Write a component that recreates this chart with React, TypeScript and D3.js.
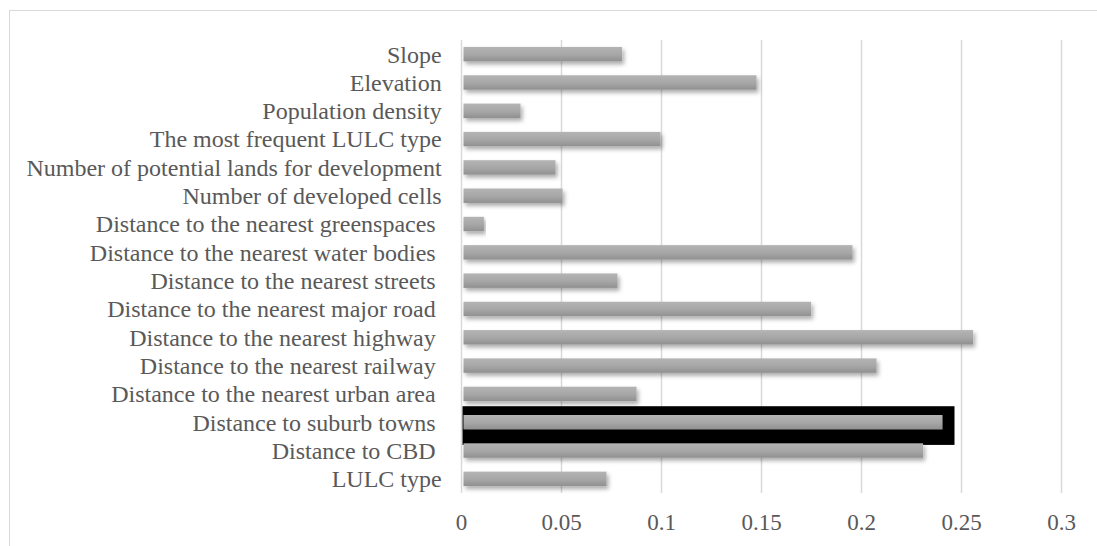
import React from "react";
import * as d3 from "d3";

// Variable importance of the urban growth drivers (top to bottom as drawn)
const factors: string[] = [
  "Slope",
  "Elevation",
  "Population density",
  "The most frequent LULC type",
  "Number of potential lands for development",
  "Number of developed cells",
  "Distance to the nearest greenspaces ",
  "Distance to the nearest water bodies ",
  "Distance to the nearest streets ",
  "Distance to the nearest major road ",
  "Distance to the nearest highway ",
  "Distance to the nearest railway ",
  "Distance to the nearest urban area ",
  "Distance to suburb towns ",
  "Distance to CBD ",
  "LULC type",
];

const importance: number[] = [
  0.0803, 0.1475, 0.0295, 0.0995, 0.047, 0.0505, 0.0112, 0.1955, 0.078,
  0.1748, 0.2558, 0.2075, 0.0875, 0.2405, 0.2308, 0.0725,
];

const xTicks: number[] = [0, 0.05, 0.1, 0.15, 0.2, 0.25, 0.3];

// Highlighted factor and the extent of its emphasis frame
const highlighted = "Distance to suburb towns ";
const highlightExtent = 0.2465;

const W = 1097;
const H = 546;
const FONT = "'Liberation Serif', 'Times New Roman', serif";

export default function App() {
  const x = d3.scaleLinear().domain([0, 0.3]).range([461.5, 1061.5]);
  const y = d3
    .scaleBand<string>()
    .domain(factors)
    .range([40, 493])
    .paddingInner(0.49)
    .paddingOuter(0.245);

  const hy = (y(highlighted) ?? 0) + y.bandwidth() / 2;

  return (
    <svg
      width={W}
      height={H}
      style={{ position: "fixed", left: 0, top: 0, background: "#fff" }}
    >
      <defs>
        <linearGradient id="barFill" x1="0" y1="0" x2="0" y2="1">
          <stop offset="0" stopColor="#b4b4b4" />
          <stop offset="0.55" stopColor="#a6a6a6" />
          <stop offset="1" stopColor="#909090" />
        </linearGradient>
        <filter id="barShadow" x="-5%" y="-40%" width="115%" height="200%">
          <feDropShadow dx="2" dy="3" stdDeviation="2" floodColor="#000" floodOpacity="0.33" />
        </filter>
      </defs>

      <rect x={9.5} y={10.5} width={1200} height={700} fill="#fff" stroke="#d9d9d9" strokeWidth={1} />

      {/* vertical gridlines */}
      {xTicks.map((t) => (
        <line
          key={`g${t}`}
          x1={x(t)}
          x2={x(t)}
          y1={40}
          y2={493}
          stroke="#d9d9d9"
          strokeWidth={1.5}
        />
      ))}

      {/* emphasis frame behind the highlighted bar */}
      <rect
        x={x(0) + 1}
        y={hy - 16}
        width={x(highlightExtent) - x(0) - 1}
        height={38.7}
        fill="#000"
      />

      {/* bars */}
      {factors.map((f, i) => (
        <rect
          key={f}
          x={x(0) + 2}
          y={y(f)}
          width={x(importance[i]) - x(0) - 2}
          height={y.bandwidth()}
          fill="url(#barFill)"
          filter="url(#barShadow)"
        />
      ))}

      {/* category labels */}
      {factors.map((f) => (
        <text
          key={`l${f}`}
          x={441.7}
          y={(y(f) ?? 0) + y.bandwidth() / 2}
          dy="0.35em"
          textAnchor="end"
          fill="#595959"
          style={{ whiteSpace: "pre", fontFamily: FONT, fontSize: "24px" }}
        >
          {f}
        </text>
      ))}

      {/* value axis labels */}
      {xTicks.map((t) => (
        <text
          key={`t${t}`}
          x={x(t)}
          y={530}
          textAnchor="middle"
          fill="#595959"
          style={{ fontFamily: FONT, fontSize: "23px" }}
        >
          {String(t)}
        </text>
      ))}
    </svg>
  );
}
